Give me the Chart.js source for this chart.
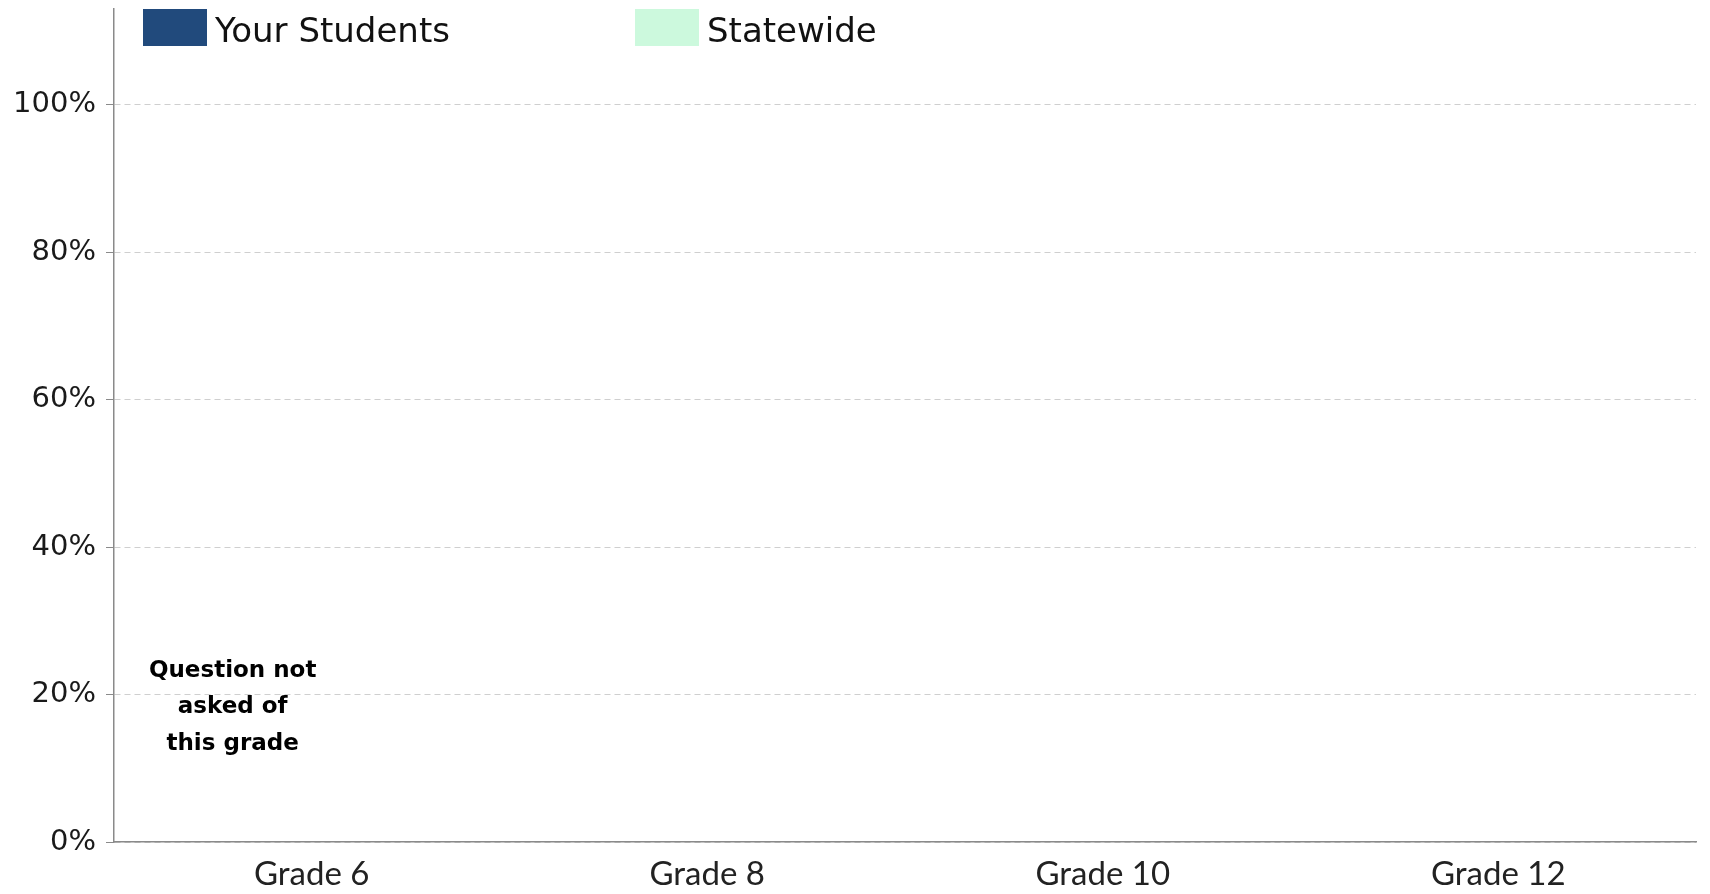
<!DOCTYPE html>
<html lang="en">
<head>
    <meta charset="UTF-8">
    <title>Grade chart</title>
    <script src="https://cdn.jsdelivr.net/npm/chart.js"></script>
    <style>
        html, body { margin: 0; padding: 0; background: #fff; }
        .chart-container { position: relative; width: 1710px; height: 894px; }
    </style>
</head>
<body>
    <div class="chart-container">
        <canvas id="gradeChart"></canvas>
    </div>

    <script>
        const grades = ['Grade 6', 'Grade 8', 'Grade 10', 'Grade 12'];
        const yourStudents = [null, null, null, null];
        const statewide = [null, null, null, null];
        const notes = [['Question not', 'asked of', 'this grade'], null, null, null];
        const yTicks = [0, 20, 40, 60, 80, 100];

        // legend drawn by hand so the boxes sit where the original had them
        const legendPlugin = {
            id: 'manualLegend',
            afterDraw(chart) {
                const ctx = chart.ctx;
                const starts = [143, 635];
                ctx.save();
                ctx.font = '34px "DejaVu Sans"';
                ctx.textBaseline = 'middle';
                chart.data.datasets.forEach((ds, i) => {
                    const x = starts[i];
                    ctx.fillStyle = ds.backgroundColor;
                    ctx.fillRect(x, 9, 64, 37);
                    ctx.fillStyle = '#111';
                    ctx.fillText(ds.label, x + 72, 33);
                });
                ctx.restore();
            }
        };

        const notePlugin = {
            id: 'notes',
            afterDatasetsDraw(chart) {
                const ctx = chart.ctx;
                const meta = chart.getDatasetMeta(0);
                const y = chart.scales.y.getPixelForValue(18.3);
                ctx.save();
                ctx.font = 'bold 23px "DejaVu Sans"';
                ctx.fillStyle = '#000';
                ctx.textAlign = 'center';
                ctx.textBaseline = 'middle';
                notes.forEach((lines, i) => {
                    if (!lines) return;
                    const x = meta.data[i] ? meta.data[i].x : chart.scales.x.getPixelForValue(i);
                    lines.forEach((line, j) => {
                        ctx.fillText(line, x, y + (j - 1) * 36.5);
                    });
                });
                ctx.restore();
            }
        };

        window.onload = function() {
            const ctx = document.getElementById('gradeChart').getContext('2d');
            new Chart(ctx, {
                type: 'bar',
                data: {
                    labels: grades,
                    datasets: [
                        { label: 'Your Students', data: yourStudents, backgroundColor: '#214A7C' },
                        { label: 'Statewide', data: statewide, backgroundColor: '#CCF9DD' }
                    ]
                },
                options: {
                    responsive: true,
                    maintainAspectRatio: false,
                    animation: false,
                    layout: { padding: { top: 9, right: 14, left: 0, bottom: 0 } },
                    plugins: {
                        legend: { display: false },
                        tooltip: { enabled: false }
                    },
                    scales: {
                        x: {
                            grid: { display: false, drawTicks: false },
                            border: { color: '#8a8a8a', width: 1.5 },
                            ticks: {
                                padding: 13,
                                color: '#222',
                                font: { family: 'Lato', size: 33 }
                            },
                            afterFit(scale) { scale.height = 52; }
                        },
                        y: {
                            min: 0,
                            max: 113,
                            afterBuildTicks(scale) {
                                scale.ticks = yTicks.map(v => ({ value: v }));
                            },
                            grid: {
                                color: '#cfcfcf',
                                lineWidth: 1,
                                tickLength: 8,
                                tickColor: '#8a8a8a',
                                tickBorderDash: []
                            },
                            border: { color: '#8a8a8a', width: 1.5, dash: [6, 4] },
                            ticks: {
                                padding: 10,
                                color: '#1a1a1a',
                                font: { family: 'DejaVu Sans', size: 29 },
                                callback: v => v + '%'
                            },
                            afterFit(scale) {
                                scale.width = 114;
                                scale.paddingTop = 0;
                            }
                        }
                    }
                },
                plugins: [legendPlugin, notePlugin]
            });
        };
    </script>
</body>
</html>
